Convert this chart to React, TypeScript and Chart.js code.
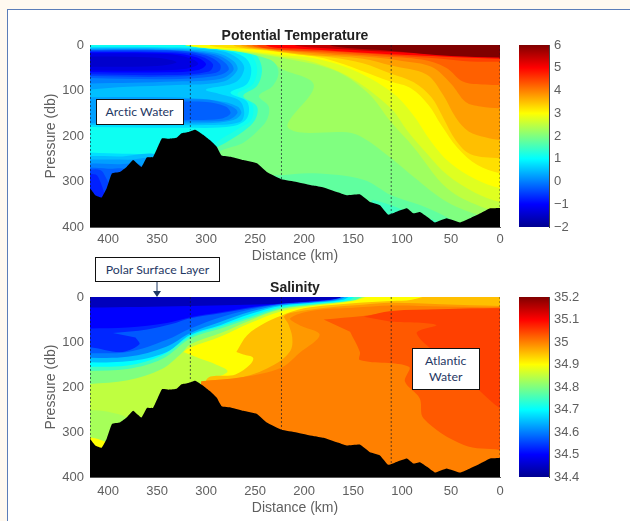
import React, { useEffect, useRef } from "react";
import { Chart, registerables } from "chart.js";

Chart.register(...registerables);

type Pt = [number, number];

const bathyDist = [418.4, 413, 406.5, 401.4, 396, 388, 381, 374.4, 366, 360.5, 354, 345, 338, 330, 325, 318, 311, 303, 296, 289, 284, 274, 262, 248, 238, 223, 207.5, 190.5, 180, 166.5, 156.5, 143, 132.7, 122.5, 114, 105, 95, 88.5, 81.7, 74, 66.4, 54.5, 40.8, 30.6, 20, 10, 0];
const bathyPres = [315, 330, 335, 315, 282, 279, 268, 253, 268, 247, 246, 205, 206, 204, 194, 191, 186, 197, 209, 224, 243, 246, 253, 260, 279, 295, 301, 309, 313, 323, 330, 328, 345, 352, 373, 366, 359, 370, 367, 378, 390, 381, 390, 381, 370, 359, 358];

const stationDist = [418, 316, 223, 111, 0];
const stationFloor = [315, 186, 295, 373, 358];

const tempTicks = [-2, -1, 0, 1, 2, 3, 4, 5, 6];
const salTicks = [34.4, 34.5, 34.6, 34.7, 34.8, 34.9, 35, 35.1, 35.2];
const distTicks = [400, 350, 300, 250, 200, 150, 100, 50, 0];
const presTicks = [0, 100, 200, 300, 400];

// Temperature: cold regions (T <= level), then warm regions (T >= level)
const tempBase = 2;
const tempColdRegions: [number, Pt[]][] = [
  [1.75, [[430, -10], [250, -10], [238, 12], [232, 30], [226, 60], [232, 90], [246, 112], [236, 135], [238, 165], [248, 190], [262, 215], [290, 245], [300, 420], [430, 420]]],
  [1.75, [[224, 286], [190.5, 282], [139.5, 296], [111, 330], [81, 352], [54.5, 378], [41, 396], [41, 420], [260, 420], [260, 286]]],
  [1.5, [[130, 340], [111, 352], [85, 375], [60, 392], [60, 420], [150, 420]]],
  [1.25, [[430, -10], [270, -10], [252, 15], [245, 35], [243, 60], [248, 90], [262, 112], [248, 135], [250, 165], [262, 190], [280, 215], [300, 245], [300, 420], [430, 420]]],
  [1.1, [[430, -10], [280, -10], [258, 15], [250, 35], [248, 60], [253, 88], [268, 108], [253, 130], [254, 165], [268, 185], [290, 215], [300, 240], [300, 420], [430, 420]]],
  [0.75, [[430, 4], [340, 5], [290, 9], [262, 25], [254, 50], [258, 85], [275, 105], [258, 125], [258, 160], [272, 178], [320, 182], [430, 180]]],
  [0.75, [[430, 235], [400, 238], [340, 242], [320, 250], [300, 420], [430, 420]]],
  [0.5, [[430, 6], [335, 7], [285, 13], [267, 30], [261, 52], [270, 82], [300, 98], [285, 108], [266, 122], [261, 150], [266, 170], [300, 176], [430, 176]]],
  [0.5, [[430, 244], [390, 245], [345, 249], [330, 420], [430, 420]]],
  [0.25, [[430, 8], [340, 9], [290, 17], [272, 35], [268, 55], [282, 80], [330, 88], [380, 92], [430, 100]]],
  [0.25, [[430, 115], [340, 115], [290, 122], [268, 135], [264, 150], [272, 165], [300, 172], [430, 172]]],
  [0.25, [[430, 252], [380, 252], [350, 256], [340, 420], [430, 420]]],
  [0, [[430, 10], [335, 11], [292, 20], [276, 37], [272, 55], [285, 74], [330, 80], [430, 85]]],
  [0, [[345, 120], [300, 120], [285, 126], [270, 140], [268, 150], [278, 165], [310, 168], [345, 168]]],
  [0, [[430, 260], [390, 262], [365, 268], [355, 420], [430, 420]]],
  [-0.25, [[430, 11], [330, 12], [295, 22], [280, 40], [277, 55], [290, 68], [340, 75], [430, 72]]],
  [-0.25, [[345, 125], [300, 125], [280, 135], [275, 150], [285, 162], [320, 165], [345, 165]]],
  [-0.25, [[430, 268], [400, 272], [380, 278], [370, 420], [430, 420]]],
  [-0.5, [[430, 12], [330, 13], [300, 23], [286, 41], [286, 56], [295, 63], [340, 70], [430, 68]]],
  [-0.5, [[430, 276], [405, 280], [390, 420], [430, 420]]],
  [-0.75, [[430, 14], [330, 16], [305, 25], [293, 42], [297, 58], [340, 66], [430, 64]]],
  [-0.75, [[430, 285], [410, 290], [400, 420], [430, 420]]],
  [-1, [[430, 16], [335, 18], [310, 27], [300, 42], [308, 55], [340, 60], [430, 60]]],
  [-1.25, [[430, 18], [340, 20], [315, 30], [308, 42], [320, 52], [360, 56], [430, 56]]],
  [-1.45, [[430, 25], [350, 28], [330, 38], [350, 46], [430, 48]]],
];
const tempWarmRegions: [number, Pt[]][] = [
  [2.25, [[330, -10], [320, 1], [270, 14], [235, 32], [224, 51], [190, 88], [217, 176], [205, 192], [156, 192], [139, 205], [111, 249], [88, 290], [54, 345], [20, 375], [0, 385], [-10, 385], [-10, -10]]],
  [2.5, [[325, -10], [320, 1], [270, 13], [224, 28], [170, 55], [135, 105], [111, 170], [88, 225], [54, 315], [20, 355], [0, 365], [-10, 365], [-10, -10]]],
  [2.75, [[322, -10], [318, 1], [270, 12], [224, 25], [190, 38], [150, 75], [111, 140], [94, 190], [74, 240], [54, 285], [25, 325], [0, 345], [-10, 345], [-10, -10]]],
  [3, [[320, -10], [316, 1], [270, 10], [224, 22], [190, 29], [150, 55], [111, 103], [90, 150], [70, 213], [52, 257], [25, 295], [0, 315], [-10, 315], [-10, -10]]],
  [3.25, [[300, -10], [295, 2], [250, 10], [210, 20], [175, 32], [111, 81], [91, 95], [73, 132], [60, 176], [43, 227], [23, 264], [0, 282], [-10, 282], [-10, -10]]],
  [3.5, [[275, -10], [270, 3], [235, 12], [200, 22], [170, 28], [140, 40], [111, 63], [88, 82], [70, 115], [58, 160], [45, 210], [30, 240], [0, 249], [-10, 249], [-10, -10]]],
  [3.75, [[270, -10], [262, 3], [240, 10], [190, 22], [140, 30], [111, 45], [75, 65], [58, 110], [45, 160], [32, 190], [15, 203], [0, 209], [-10, 209], [-10, -10]]],
  [4, [[265, -10], [255, 4], [180, 20], [130, 27], [100, 35], [70, 48], [50, 85], [35, 125], [20, 135], [0, 139], [-10, 139], [-10, -10]]],
  [4.25, [[260, -10], [248, 5], [170, 18], [120, 25], [80, 32], [55, 50], [38, 80], [15, 87], [0, 88], [-10, 88], [-10, -10]]],
  [4.5, [[255, -10], [242, 6], [160, 16], [110, 23], [60, 30], [30, 36], [0, 37], [-10, 37], [-10, -10]]],
  [5, [[245, -10], [235, 4], [200, 9], [130, 18], [60, 25], [0, 30], [-10, 30], [-10, -10]]],
  [5.5, [[220, -10], [205, 3], [170, 8], [111, 15], [60, 21], [0, 28], [-10, 28], [-10, -10]]],
  [6, [[180, -10], [170, 3], [111, 13], [50, 24], [0, 27], [-10, 27], [-10, -10]]],
];

// Salinity: nested regions (S >= level)
const salBase = 34.44;
const salWarmRegions: [number, Pt[]][] = [
  [34.5, [[430, 24], [316, 20], [224, 15], [190, 9], [165, 3], [150, -10], [-10, -10], [-10, 420], [430, 420]]],
  [34.53, [[430, 70], [380, 68], [340, 58], [316, 45], [285, 34], [255, 23], [224, 15.2], [190, 9.5], [165, 3.2], [151, -10], [-10, -10], [-10, 420], [430, 420]]],
  [34.57, [[395, 80], [360, 72], [335, 60], [316, 47], [285, 36], [255, 25], [224, 15.5], [190, 10], [165, 3.5], [152, -10], [-10, -10], [-10, 420], [430, 420], [430, 122], [385, 122], [368, 105], [372, 90]]],
  [34.6, [[430, 125], [380, 122], [340, 95], [316, 70], [285, 45], [255, 28], [224, 16], [190, 11], [165, 4], [155, -10], [-10, -10], [-10, 420], [430, 420]]],
  [34.65, [[430, 135], [380, 133], [340, 110], [316, 80], [285, 55], [255, 33], [224, 18], [190, 12], [163, 5], [150, -10], [-10, -10], [-10, 420], [430, 420]]],
  [34.7, [[430, 145], [380, 143], [340, 122], [316, 84], [285, 62], [255, 38], [224, 20], [190, 13], [160, 6], [145, -10], [-10, -10], [-10, 420], [430, 420]]],
  [34.75, [[430, 155], [380, 152], [345, 130], [316, 87], [285, 65], [255, 44], [224, 23], [190, 15], [155, 7], [140, -10], [-10, -10], [-10, 420], [430, 420]]],
  [34.8, [[430, 165], [380, 160], [345, 138], [316, 92], [285, 70], [255, 48], [224, 26], [190, 17], [150, 8], [130, -10], [-10, -10], [-10, 420], [430, 420]]],
  [34.85, [[430, 195], [380, 185], [345, 160], [325, 125], [316, 105], [285, 80], [255, 52], [224, 28], [190, 18], [150, 8], [125, -10], [-10, -10], [-10, 420], [430, 420]]],
  [34.83, [[430, 250], [400, 255], [378, 275], [390, 320], [430, 305]]],
  [34.9, [[323, 122], [316, 112], [285, 88], [255, 58], [224, 32], [190, 20], [150, 9], [120, -10], [-10, -10], [-10, 420], [300, 420], [300, 190], [290, 180], [278, 165], [290, 150], [305, 138]]],
  [34.9, [[430, 310], [418, 312], [405, 320], [396, 340], [405, 360], [430, 360]]],
  [34.95, [[269, 122], [258, 85], [240, 58], [224, 42], [200, 25], [150, 14], [111, 9], [90, 6], [60, -10], [-10, -10], [-10, 420], [300, 420], [300, 186], [270, 172], [255, 150], [252, 135], [262, 128]]],
  [34.98, [[300, 186], [262, 178], [230, 150], [214, 120], [212, 90], [216, 60], [220, 42], [200, 30], [170, 22], [140, 17], [111, 13], [60, 16], [0, 20], [-10, 20], [-10, 420], [300, 420]]],
  [35, [[305, 187], [262, 178], [224, 158], [205, 125], [184, 84], [205, 62], [214, 47], [190, 30], [150, 24], [111, 19], [60, 21], [0, 23], [-10, 23], [-10, 420], [310, 420]]],
  [35.03, [[180, 50], [140, 42], [111, 34], [60, 28], [0, 24], [-10, 24], [-10, 345], [0, 340], [37, 329], [78, 270], [82, 225], [97, 188], [93, 155], [143, 140], [143, 122], [153, 77]]],
  [35.05, [[139, 44], [111, 31], [60, 27], [0, 25], [-10, 25], [-10, 250], [0, 247], [20, 210], [50, 150], [85, 81], [65, 62], [111, 55]]],
];

const jetStops: [number, string][] = [
  [0, "rgb(0,0,143)"],
  [0.125, "rgb(0,0,255)"],
  [0.375, "rgb(0,255,255)"],
  [0.625, "rgb(255,255,0)"],
  [0.875, "rgb(255,0,0)"],
  [1, "rgb(128,0,0)"],
];

function jet(t: number): string {
  const c = (v: number) => Math.round(255 * Math.min(1, Math.max(0, v)));
  const r = t < 0.375 ? 0 : t < 0.625 ? (t - 0.375) * 4 : t < 0.875 ? 1 : 1 - (t - 0.875) * 4;
  const g = t < 0.125 ? 0 : t < 0.375 ? (t - 0.125) * 4 : t < 0.625 ? 1 : (0.875 - t) * 4;
  const b = t < 0.125 ? 0.56 + t * 3.52 : t < 0.375 ? 1 : (0.625 - t) * 4;
  return `rgb(${c(r)},${c(g)},${c(b)})`;
}

const GREY = "#5f5f5f";
const tickFont = { family: "'Liberation Sans', Arial, sans-serif", size: 13 };
const labelFont = { family: "'Liberation Sans', Arial, sans-serif", size: 14 };

function poly(path: Pt[], color: string, i: number, tension = 0.35) {
  return {
    data: path.map(([x, y]) => ({ x, y })),
    backgroundColor: color,
    borderWidth: 0,
    borderColor: "transparent",
    pointRadius: 0,
    fill: "shape",
    tension,
    order: -i,
  };
}

function buildDatasets(layers: [number, Pt[]][], base: number, lo: number, hi: number) {
  const color = (v: number) => jet((v - lo) / (hi - lo));
  const sets: any[] = [];
  const frame: Pt[] = [[430, -10], [-10, -10], [-10, 420], [430, 420]];
  sets.push(poly(frame, color(base), 0, 0));
  layers.forEach(([level, path]) => sets.push(poly(path, color(level), sets.length)));
  const seabed: Pt[] = [...bathyDist.map((d, i): Pt => [d, bathyPres[i]]), [-10, 358], [-10, 420], [430, 420], [430, 315]];
  sets.push(poly(seabed, "#000", sets.length, 0.1));
  stationDist.forEach((d, i) => {
    sets.push({
      data: [{ x: d, y: 0 }, { x: d, y: stationFloor[i] }],
      borderColor: "rgba(15,20,40,0.65)",
      borderWidth: 1,
      borderDash: [2, 2],
      pointRadius: 0,
      fill: false,
      order: -sets.length,
    });
  });
  return sets;
}

function sectionConfig(title: string, datasets: any[], bottomSpace: number, tickPad: number) {
  return {
    type: "line",
    data: { datasets },
    options: {
      animation: false,
      responsive: false,
      layout: { padding: { left: 43, right: 15, top: 0, bottom: 0 } },
      plugins: {
        legend: { display: false },
        tooltip: { enabled: false },
        title: {
          display: true,
          text: title,
          fullSize: false,
          color: "#222",
          font: { family: "'Liberation Sans', Arial, sans-serif", size: 14, weight: "bold", lineHeight: 1.2 },
          padding: { top: 28.2, bottom: 0 },
        },
      },
      scales: {
        x: {
          type: "linear",
          reverse: true,
          min: 0,
          max: 418.4,
          grid: { display: false, drawTicks: false },
          border: { color: "#555" },
          afterBuildTicks: (s: any) => { s.ticks = distTicks.map((value) => ({ value })); },
          afterFit: (s: any) => { s.height = bottomSpace; },
          ticks: { color: GREY, font: tickFont, padding: tickPad, maxRotation: 0, autoSkip: false },
          title: { display: true, text: "Distance (km)", color: GREY, font: labelFont, padding: 0 },
        },
        y: {
          type: "linear",
          reverse: true,
          min: 0,
          max: 400,
          grid: { display: false, drawTicks: false },
          border: { color: "#555" },
          afterBuildTicks: (s: any) => { s.ticks = presTicks.map((value) => ({ value })); },
          afterFit: (s: any) => { s.width = 47; },
          ticks: { color: GREY, font: tickFont, padding: 6 },
          title: { display: true, text: "Pressure (db)", color: GREY, font: labelFont, padding: 0 },
        },
      },
    },
  };
}

function colorbarConfig(ticks: number[], bottomPad: number) {
  const lo = ticks[0];
  const hi = ticks[ticks.length - 1];
  return {
    type: "bar",
    data: {
      labels: ["scale"],
      datasets: [
        {
          data: [[lo, hi]],
          barPercentage: 1,
          categoryPercentage: 1,
          borderWidth: 0,
          backgroundColor: (ctx: any) => {
            const area = ctx.chart.chartArea;
            if (!area) return "#00f";
            const g = ctx.chart.ctx.createLinearGradient(0, area.bottom, 0, area.top);
            jetStops.forEach(([p, c]) => g.addColorStop(p, c));
            return g;
          },
        },
      ],
    },
    options: {
      animation: false,
      responsive: false,
      layout: { padding: { left: 19, right: 31, top: 45, bottom: bottomPad } },
      plugins: { legend: { display: false }, tooltip: { enabled: false }, title: { display: false } },
      scales: {
        x: { display: false },
        y: {
          position: "right",
          min: lo,
          max: hi,
          grid: { display: false, drawTicks: false },
          border: { color: "#444" },
          afterBuildTicks: (s: any) => { s.ticks = ticks.map((value) => ({ value })); },
          afterFit: (s: any) => { s.width = 50; },
          ticks: {
            color: GREY,
            font: tickFont,
            padding: 5,
            callback: (v: number) => String(+v.toFixed(1)).replace("-", "\u2212"),
          },
        },
      },
    },
  };
}

const navy = "#1f3864";
const boxFont = "Lato, 'Open Sans', sans-serif";

function Box(props: { left: number; top: number; width: number; height: number; lines: string[] }) {
  const { left, top, width, height, lines } = props;
  return (
    <div
      style={{
        position: "absolute",
        left,
        top,
        width,
        height,
        boxSizing: "border-box",
        background: "#fff",
        border: "1.3px solid #111",
        color: navy,
        fontFamily: boxFont,
        fontSize: 12.3,
        fontVariantLigatures: "none",
        lineHeight: "16px",
        display: "flex",
        flexDirection: "column",
        alignItems: "center",
        justifyContent: "center",
        zIndex: 5,
      }}
    >
      {lines.map((l) => (
        <div key={l}>{l}</div>
      ))}
    </div>
  );
}

export default function App() {
  const tempRef = useRef<HTMLCanvasElement>(null);
  const salRef = useRef<HTMLCanvasElement>(null);
  const tempBarRef = useRef<HTMLCanvasElement>(null);
  const salBarRef = useRef<HTMLCanvasElement>(null);

  useEffect(() => {
    const tempSets = buildDatasets([...tempColdRegions, ...tempWarmRegions], tempBase, -2, 6);
    const salSets = buildDatasets(salWarmRegions, salBase, 34.4, 35.2);
    const charts = [
      new Chart(tempRef.current as any, sectionConfig("Potential Temperature", tempSets, 38, 5) as any),
      new Chart(salRef.current as any, sectionConfig("Salinity", salSets, 40, 7) as any),
      new Chart(tempBarRef.current as any, colorbarConfig(tempTicks, 38) as any),
      new Chart(salBarRef.current as any, colorbarConfig(salTicks, 40) as any),
    ];
    return () => charts.forEach((c) => c.destroy());
  }, []);

  const cv = (left: number, top: number): React.CSSProperties => ({
    position: "absolute",
    left,
    top,
    filter: "blur(0.6px)",
  });

  return (
    <div style={{ position: "fixed", left: 0, top: 0, width: 630, height: 521, background: "#fff9f0", overflow: "hidden" }}>
      <div
        style={{
          position: "absolute",
          left: 7,
          top: 9,
          width: 640,
          height: 530,
          background: "#fff",
          borderLeft: "1.5px solid #5b7db8",
          borderTop: "1.5px solid #5b7db8",
        }}
      />
      <canvas ref={tempRef} width={515} height={265} style={cv(0, 0)} />
      <canvas ref={salRef} width={515} height={265} style={cv(0, 252)} />
      <canvas ref={tempBarRef} width={130} height={265} style={cv(500, 0)} />
      <canvas ref={salBarRef} width={130} height={265} style={cv(500, 252)} />
      <Box left={95.5} top={99} width={88} height={25.5} lines={["Arctic Water"]} />
      <Box left={95} top={257} width={125} height={25} lines={["Polar Surface Layer"]} />
      <Box left={412} top={348} width={67.5} height={42} lines={["Atlantic", "Water"]} />
      <svg style={{ position: "absolute", left: 150, top: 282, zIndex: 6 }} width={14} height={16}>
        <line x1={7} y1={0} x2={7} y2={10} stroke={navy} strokeWidth={1} />
        <polygon points="3,9 11,9 7,15" fill={navy} />
      </svg>
    </div>
  );
}
